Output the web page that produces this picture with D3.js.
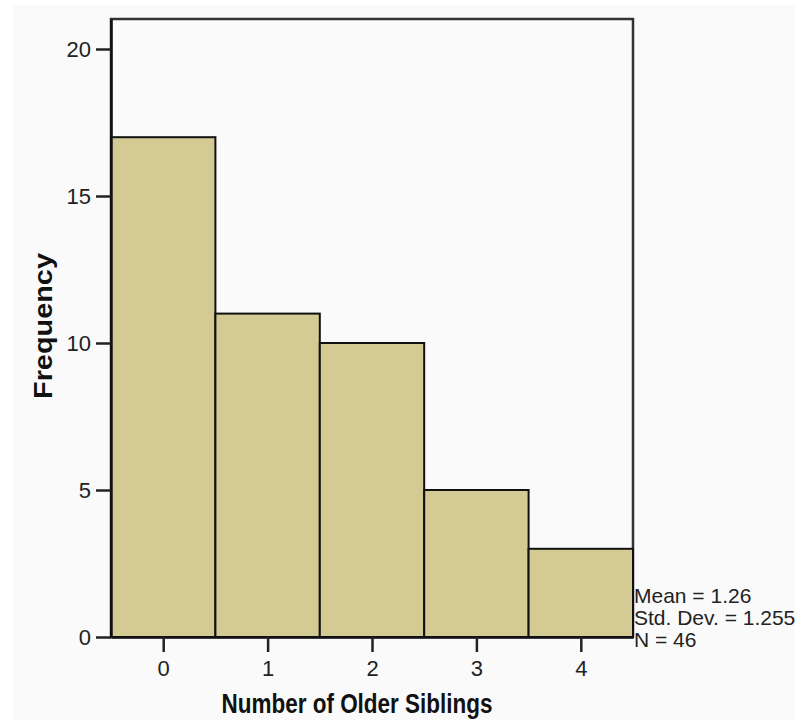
<!DOCTYPE html>
<html>
<head>
<meta charset="utf-8">
<script src="https://cdn.jsdelivr.net/npm/d3@7"></script>
<style>
  body { margin: 0; background: #fff; }
  svg { display: block; font-family: Arial, "Liberation Sans", sans-serif; }
</style>
</head>
<body>
<svg width="795" height="720"></svg>
<script>
// histogram bins (number of older siblings) and their counts
const bins = [0, 1, 2, 3, 4];
const counts = [17, 11, 10, 5, 3];
const yTicks = [0, 5, 10, 15, 20];
const stats = ["Mean = 1.26", "Std. Dev. = 1.255", "N = 46"];

const svg = d3.select("svg"),
  margin = { top: 19, right: 162, bottom: 83, left: 111 },
  width = 795 - margin.left - margin.right,
  height = 720 - margin.top - margin.bottom;

// light grey chart area
svg.append("rect")
  .attr("x", 13).attr("y", 5)
  .attr("width", 782).attr("height", 715)
  .attr("fill", "#fafafa");

const x = d3.scaleLinear().domain([-0.5, 4.5]).range([0, width]);
const y = d3.scaleLinear().domain([0, 20 * 618 / 588]).range([height, 0]);

const g = svg.append("g")
  .attr("transform", "translate(" + margin.left + "," + margin.top + ")");

// frame
g.append("rect")
  .attr("width", width).attr("height", height)
  .attr("fill", "none")
  .attr("stroke", "#333")
  .attr("stroke-width", 2.5);

// bars
g.selectAll(".bar")
  .data(bins)
  .enter()
  .append("rect")
  .attr("class", "bar")
  .attr("x", (d) => x(d - 0.5))
  .attr("width", (d) => x(d + 0.5) - x(d - 0.5))
  .attr("y", (d, i) => y(counts[i]))
  .attr("height", (d, i) => height - y(counts[i]))
  .attr("fill", "#d3ca94")
  .attr("stroke", "#111")
  .attr("stroke-width", 2);

// axes
const yAxis = g.append("g")
  .call(d3.axisLeft(y).tickValues(yTicks).tickFormat(d3.format("d"))
    .tickSize(15).tickSizeOuter(0).tickPadding(5));
const xAxis = g.append("g")
  .attr("transform", "translate(0," + height + ")")
  .call(d3.axisBottom(x).tickValues(bins).tickFormat(d3.format("d"))
    .tickSize(15).tickSizeOuter(0).tickPadding(8));

[yAxis, xAxis].forEach((a) => {
  a.attr("font-size", 22).attr("font-family", "Arial, 'Liberation Sans', sans-serif");
  a.select(".domain").attr("stroke", "#111").attr("stroke-width", 2.5);
  a.selectAll(".tick line").attr("stroke", "#222").attr("stroke-width", 2.5);
  a.selectAll(".tick text").attr("fill", "#222");
});

// axis titles
svg.append("text")
  .attr("x", 357).attr("y", 713)
  .attr("text-anchor", "middle")
  .attr("textLength", 271)
  .attr("lengthAdjust", "spacingAndGlyphs")
  .style("font-size", "28px")
  .style("font-weight", "bold")
  .attr("fill", "#111")
  .text("Number of Older Siblings");

svg.append("text")
  .attr("transform", "translate(52,326) rotate(-90)")
  .attr("text-anchor", "middle")
  .attr("textLength", 146)
  .attr("lengthAdjust", "spacingAndGlyphs")
  .style("font-size", "26px")
  .style("font-weight", "bold")
  .attr("fill", "#111")
  .text("Frequency");

// summary statistics
svg.append("g")
  .selectAll("text")
  .data(stats)
  .enter()
  .append("text")
  .attr("x", 634)
  .attr("y", (d, i) => 603 + i * 22)
  .style("font-size", "21px")
  .attr("fill", "#222")
  .text((d) => d);
</script>
</body>
</html>
